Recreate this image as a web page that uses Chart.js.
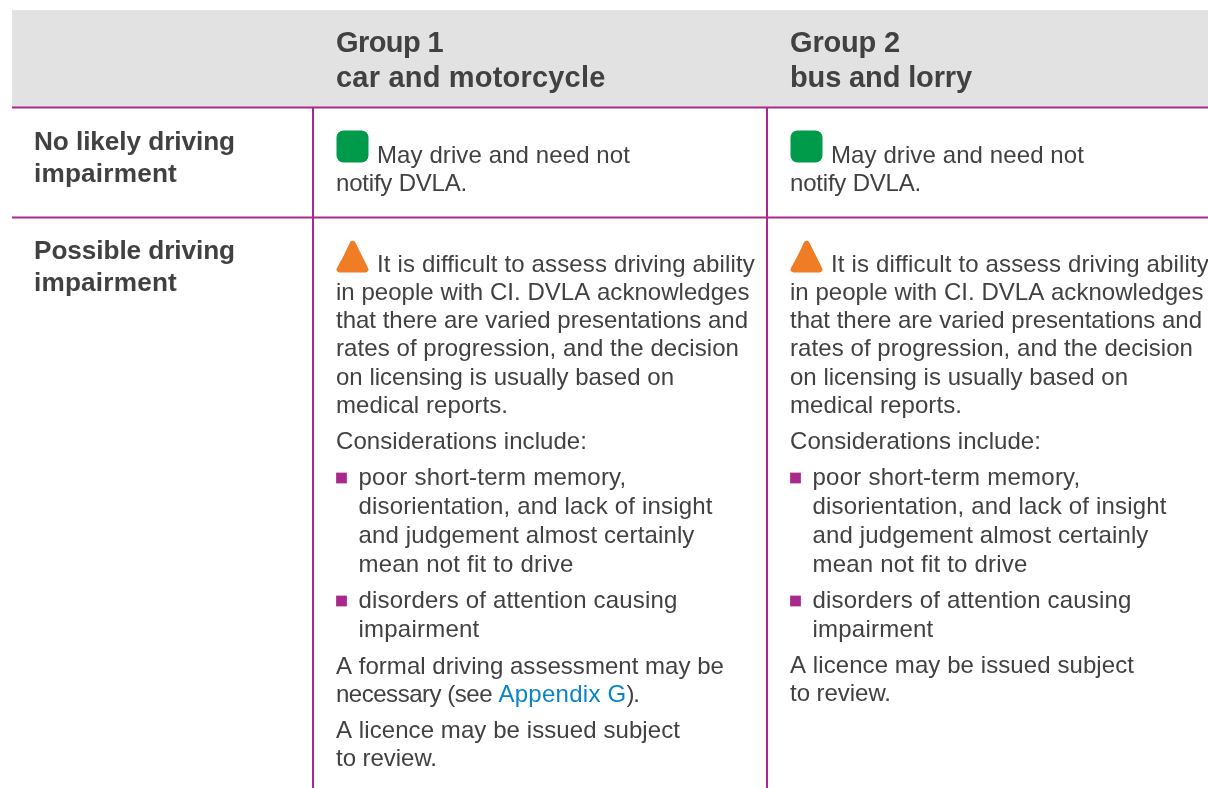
<!DOCTYPE html>
<html>
<head>
<meta charset="utf-8">
<title>Driving guidance table</title>
<style>
  html, body { margin: 0; padding: 0; background: #fff; }
  canvas { display: block; }
</style>
<script src="https://cdn.jsdelivr.net/npm/chart.js@4"></script>
</head>
<body>
<canvas id="table-chart" width="1208" height="788"></canvas>
<script>
// table text
const groupOneHead = ['Group 1', 'car and motorcycle'];
const groupTwoHead = ['Group 2', 'bus and lorry'];
const rowOneLabel = ['No likely driving', 'impairment'];
const rowTwoLabel = ['Possible driving', 'impairment'];
const mayDrive = ['May drive and need not', 'notify DVLA.'];
const difficult = ['It is difficult to assess driving ability', 'in people with CI. DVLA acknowledges', 'that there are varied presentations and', 'rates of progression, and the decision', 'on licensing is usually based on', 'medical reports.'];
const considerations = ['Considerations include:'];
const bulletOne = ['poor short-term memory,', 'disorientation, and lack of insight', 'and judgement almost certainly', 'mean not fit to drive'];
const bulletTwo = ['disorders of attention causing', 'impairment'];
const formalAssessment = ['A formal driving assessment may be', 'necessary (see'];
const linkText = 'Appendix G';
const linkTail = ').';
const licence = ['A licence may be issued subject', 'to review.'];

// table layout, in page pixels
const colRules = [313, 767];
const rowRules = [107.5, 217.5];
const colOffset = 454;
const TEXT = '#414042', BLUE = '#0a84c9', PURPLE = '#a8288c';
const BODY = '24px "Liberation Sans"', BOLD = 'bold 29px "Liberation Sans"', LABEL = 'bold 26.2px "Liberation Sans"';

// the original face is a little off Liberation, so each line is fitted to its measured width
const headOneWidths = [107, 269.5];
const headTwoWidths = [110, 182];
const labelOneWidths = [201, 143];
const labelTwoWidths = [201, 143];
const difficultWidths = [413.5, 412, 403, 338, 172];
const bulletOneWidths = [268, 354, 336, 215];
const bulletTwoWidths = [319, 121];
const licenceWidths = [344, 101];

function roundedMark(color, draw) {
  const c = document.createElement('canvas');
  c.width = 33; c.height = 33;
  const g = c.getContext('2d');
  g.fillStyle = color;
  g.beginPath();
  draw(g);
  g.fill();
  return c;
}
const greenMark = roundedMark('#009a4b', g => g.roundRect(0.5, 0.5, 32, 32, 7));
const orangeMark = roundedMark('#f07d26', g => {
  g.moveTo(8, 15);
  g.arcTo(16.5, -3.2, 34.36, 32.5, 3);
  g.arcTo(34.36, 32.5, -1.36, 32.5, 3);
  g.arcTo(-1.36, 32.5, 16.5, -3.2, 3);
  g.closePath();
});

function ruleDataset(points) {
  return { type: 'line', data: points, borderColor: PURPLE, borderWidth: 2, pointRadius: 0, fill: false };
}

const tableText = {
  id: 'tableText',
  afterDatasetsDraw(chart) {
    const { ctx, scales: { x, y } } = chart;
    const put = (str, col, baseline, font, width, color) => {
      ctx.font = font;
      ctx.fillStyle = color || TEXT;
      ctx.letterSpacing = '0px';
      const natural = ctx.measureText(str).width;
      ctx.letterSpacing = ((width - natural) / str.length).toFixed(3) + 'px';
      ctx.fillText(str, x.getPixelForValue(col), y.getPixelForValue(baseline));
      ctx.letterSpacing = '0px';
    };
    const lines = (arr, col, baselines, font, widths) => arr.forEach((s, i) => put(s, col, baselines[i], font, widths[i]));
    ctx.save();
    ctx.textBaseline = 'alphabetic';
    ctx.textAlign = 'left';

    lines(groupOneHead, 336, [52, 87], BOLD, headOneWidths);
    lines(groupTwoHead, 336 + colOffset, [52, 87], BOLD, headTwoWidths);
    lines(rowOneLabel, 34, [150, 182], LABEL, labelOneWidths);
    lines(rowTwoLabel, 34, [259, 291], LABEL, labelTwoWidths);

    [0, colOffset].forEach(dx => {
      put(mayDrive[0], 377 + dx, 163, BODY, 253);
      put(mayDrive[1], 336 + dx, 191, BODY, 131);
      put(difficult[0], 377 + dx, 272, BODY, 378);
      lines(difficult.slice(1), 336 + dx, [300, 328, 356, 385, 413], BODY, difficultWidths);
      put(considerations[0], 336 + dx, 449, BODY, 251);
      lines(bulletOne, 358.5 + dx, [485, 514, 543, 572], BODY, bulletOneWidths);
      lines(bulletTwo, 358.5 + dx, [608, 637], BODY, bulletTwoWidths);
    });

    // the appendix sentence only sits in the first column
    put(formalAssessment[0], 336, 674, BODY, 388);
    put(formalAssessment[1], 336, 702, BODY, 156);
    put(linkText, 498.5, 702, BODY, 128, BLUE);
    put(linkTail, 626.5, 702, BODY, 12);
    lines(licence, 336, [738, 766], BODY, licenceWidths);
    lines(licence, 336 + colOffset, [673, 701], BODY, licenceWidths);
    ctx.restore();
  }
};

new Chart(document.getElementById('table-chart'), {
  type: 'scatter',
  plugins: [tableText],
  data: {
    datasets: [
      { data: [{ x: 352.5, y: 146.5 }, { x: 352.5 + colOffset, y: 146.5 }], pointStyle: greenMark, pointRadius: 16 },
      { data: [{ x: 352.5, y: 256.5 }, { x: 352.5 + colOffset, y: 256.5 }], pointStyle: orangeMark, pointRadius: 16 },
      { data: [{ x: 341.5, y: 478 }, { x: 341.5, y: 601 }, { x: 341.5 + colOffset, y: 478 }, { x: 341.5 + colOffset, y: 601 }],
        pointStyle: 'rect', pointRadius: 7.6, pointBackgroundColor: PURPLE, pointBorderWidth: 0 },
      ...rowRules.map(r => ruleDataset([{ x: 12, y: r }, { x: 1208, y: r }])),
      ...colRules.map(c => ruleDataset([{ x: c, y: rowRules[0] }, { x: c, y: 788 }])),
      // grey header band
      { type: 'line', data: [{ x: 12, y: rowRules[0] }, { x: 1208, y: rowRules[0] }], borderWidth: 0, pointRadius: 0,
        fill: { value: 10 }, backgroundColor: '#e2e2e2' }
    ]
  },
  options: {
    responsive: false,
    animation: false,
    events: [],
    layout: { padding: 0, autoPadding: false },
    plugins: { legend: { display: false }, tooltip: { enabled: false } },
    scales: {
      x: { type: 'linear', display: false, min: 0, max: 1208 },
      y: { type: 'linear', display: false, min: 0, max: 788, reverse: true }
    }
  }
});
</script>
</body>
</html>
